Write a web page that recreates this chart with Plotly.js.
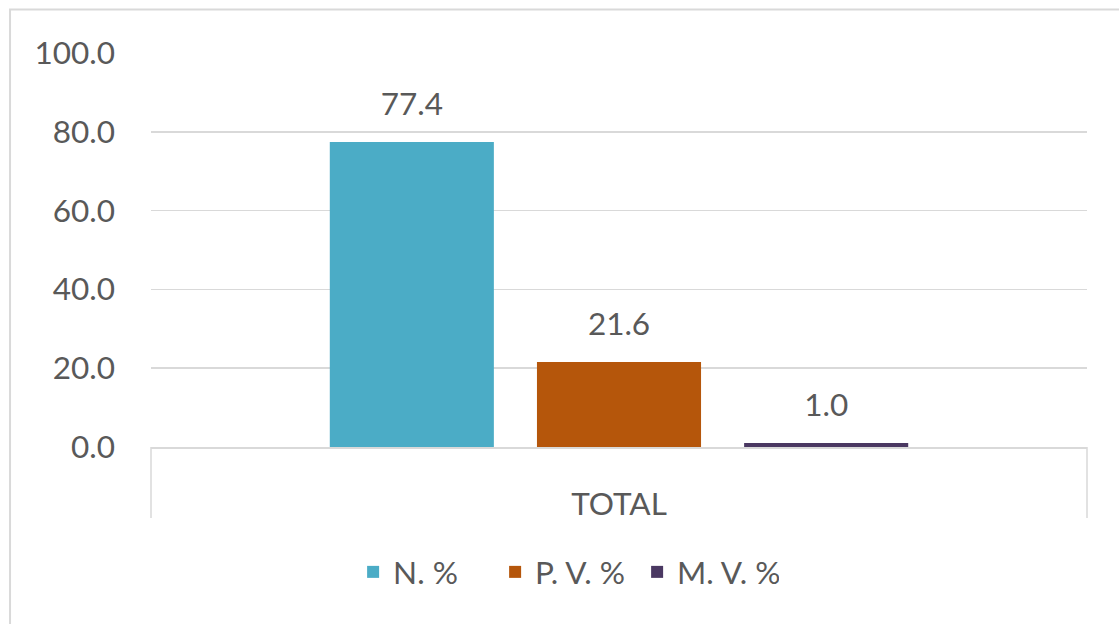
<!DOCTYPE html>
<html>
<head>
<meta charset="utf-8">
<script src="https://cdn.plot.ly/plotly-3.0.1.min.js"></script>
<style>html,body{margin:0;padding:0;background:#fff;}#chart{width:1119px;height:624px;}</style>
</head>
<body>
<div id="chart"></div>
<script>
var categories = ['TOTAL'];
var seriesNames = ['N. %', 'P. V. %', 'M. V. %'];
var nValues = [77.4];
var pvValues = [21.6];
var mvValues = [1.0];
var yTicks = [0, 20, 40, 60, 80, 100];

var colors = ['#4BACC6', '#B5560B', '#4A3862'];
var seriesValues = [nValues, pvValues, mvValues];
var font = {family: 'Lato, "Open Sans", sans-serif', size: 31.5, color: '#595959'};

var traces = [];
seriesValues.forEach(function (vals, i) {
  traces.push({
    type: 'bar', name: seriesNames[i], x: categories, y: vals,
    marker: {color: colors[i]}, offsetgroup: 'g' + i, alignmentgroup: 'a',
    hoverinfo: 'skip'
  });
});
seriesValues.forEach(function (vals, i) {
  traces.push({
    type: 'scatter', mode: 'markers+text', x: categories, y: vals,
    text: vals.map(function (v) { return v.toFixed(1); }),
    textposition: 'top center', textfont: font,
    marker: {size: 29, color: 'rgba(0,0,0,0)'},
    offsetgroup: 'g' + i, alignmentgroup: 'a', orientation: 'v',
    showlegend: false, hoverinfo: 'skip', cliponaxis: false
  });
});

var layout = {
  width: 1119, height: 624,
  margin: {l: 151, r: 32, t: 53, b: 177},
  paper_bgcolor: '#ffffff', plot_bgcolor: '#ffffff',
  barmode: 'group', bargap: 0.336, bargroupgap: 0.208,
  scattermode: 'group', scattergap: 0.336,
  showlegend: true, hovermode: false,
  font: font,
  xaxis: {
    type: 'category', showline: true, linecolor: '#d9d9d9', linewidth: 1.5,
    ticks: '', showgrid: false, zeroline: false, tickfont: font,
    ticklabelstandoff: 29, fixedrange: true
  },
  yaxis: {
    range: [0, 100], tickvals: yTicks, tickformat: '.1f',
    showgrid: true, gridcolor: '#d9d9d9', gridwidth: 1.5,
    zeroline: false, showline: false, ticks: '', tickfont: font,
    ticklabelstandoff: 35, fixedrange: true
  },
  legend: {
    orientation: 'h', x: 0.4435, xanchor: 'center', y: -0.317, yanchor: 'middle',
    font: font, traceorder: 'normal', bgcolor: 'rgba(0,0,0,0)',
    entrywidth: 97, entrywidthmode: 'pixels'
  },
  shapes: [
    {type: 'rect', xref: 'paper', yref: 'paper', x0: -0.1506, x1: 1.06, y0: -0.48, y1: 1.1104,
     line: {color: '#d9d9d9', width: 2}, layer: 'below'},
    {type: 'line', xref: 'paper', yref: 'paper', x0: 0, x1: 0, y0: 0, y1: -0.18,
     line: {color: '#d9d9d9', width: 1.5}},
    {type: 'line', xref: 'paper', yref: 'paper', x0: 1, x1: 1, y0: 0, y1: -0.18,
     line: {color: '#d9d9d9', width: 1.5}}
  ]
};

Plotly.newPlot('chart', traces, layout, {displayModeBar: false, staticPlot: true});
</script>
</body>
</html>
